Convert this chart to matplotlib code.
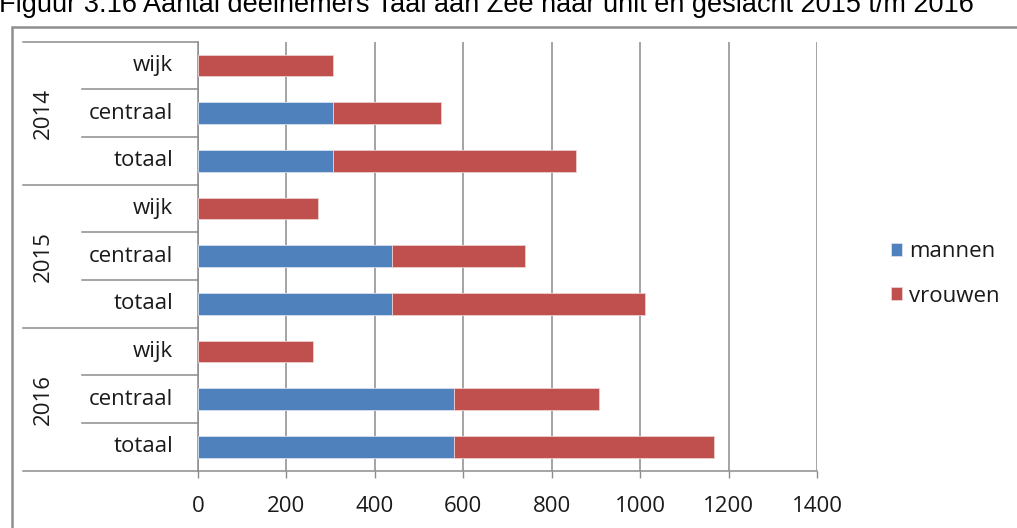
import matplotlib.pyplot as plt
from matplotlib.patches import Rectangle
from matplotlib.lines import Line2D
import matplotlib.transforms as mtransforms

# data
jaren = ["2014", "2015", "2016"]
units = ["wijk", "centraal", "totaal"]
mannen = [0, 306, 306, 0, 438, 438, 0, 580, 580]
vrouwen = [305, 243, 548, 272, 301, 573, 260, 327, 587]
xticks = [0, 200, 400, 600, 800, 1000, 1200, 1400]

blauw = "#4F81BD"
rood = "#C0504D"
grijs = "#8C8C8C"
tekst = "#1a1a1a"
fs = 16

plt.rcParams['font.family'] = ['Open Sans', 'DejaVu Sans']

W, H = 1017, 528
fig = plt.figure(figsize=(W / 100, H / 100), dpi=100)

# outer frame of the chart object (partly outside the picture)
fig.patches.append(Rectangle((12 / W, -0.1), 1.2, 1 - 27 / H + 0.1,
                             transform=fig.transFigure, fill=False,
                             edgecolor="#8E8E8E", linewidth=1.8))

# title, cut off at the top as in the original
fig.text(-1 / W, 1 - 5 / H, "Figuur 3.16 Aantal deelnemers Taal aan Zee naar unit en geslacht 2015 t/m 2016",
         family="Liberation Sans", fontsize=19.5, ha="left", va="center")

ax = fig.add_axes([198 / W, 1 - 470.7 / H, (817 - 198) / W, (470.7 - 41.7) / H])

n = len(jaren) * len(units)
pos = list(range(n))
ax.barh(pos, mannen, height=0.46, color=blauw, edgecolor="#d8e0ee", linewidth=0.6, label="mannen", zorder=3)
ax.barh(pos, vrouwen, left=mannen, height=0.46, color=rood, edgecolor="#ecd0cf", linewidth=0.6, label="vrouwen", zorder=3)

ax.set_xlim(0, 1400)
ax.set_ylim(n - 0.5, -0.5)
ax.set_xticks(xticks)
ax.set_xticklabels([str(v) for v in xticks], fontsize=fs, color=tekst)
ax.tick_params(axis="x", length=5, width=1, color=grijs, pad=13)
ax.set_yticks([])
ax.grid(axis="x", color=grijs, linewidth=1.1, zorder=0)
for s in ["top", "right"]:
    ax.spines[s].set_visible(False)
for s in ["left", "bottom"]:
    ax.spines[s].set_color(grijs)
    ax.spines[s].set_linewidth(1.1)

# hierarchical category axis
trans = mtransforms.blended_transform_factory(ax.transAxes, ax.transData)
x_lab = (173 - 198) / (817 - 198)
x_kort = (82 - 198) / (817 - 198)
x_lang = (23 - 198) / (817 - 198)
x_jaar = (43 - 198) / (817 - 198)
for i in range(n):
    ax.text(x_lab, pos[i], units[i % len(units)], transform=trans, ha="right", va="center",
            fontsize=fs, color=tekst)
for b in range(n + 1):
    x0 = x_lang if b % len(units) == 0 else x_kort
    ax.add_line(Line2D([x0, 0], [b - 0.5, b - 0.5], transform=trans, color=grijs,
                       linewidth=1.1, clip_on=False))
for j, jaar in enumerate(jaren):
    mid = j * len(units) + (len(units) - 1) / 2
    ax.text(x_jaar, mid, jaar, transform=trans, rotation=90, ha="center", va="center",
            fontsize=fs, color=tekst)

leg = fig.legend(loc="center left", bbox_to_anchor=(880 / W, 1 - 274 / H), frameon=False,
                 fontsize=fs, handlelength=0.5, handleheight=0.5, handletextpad=0.3,
                 labelspacing=1.05, borderpad=0)
for t in leg.get_texts():
    t.set_color(tekst)

fig.savefig("out.png", dpi=100)
